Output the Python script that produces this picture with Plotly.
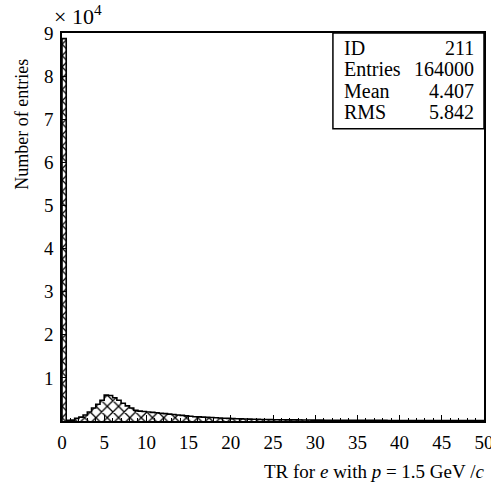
import plotly.graph_objects as go

# Histogram of TR counts, 0.5-wide bins from 0 to 50
bin_width = 0.5
bin_edges = [i * bin_width for i in range(101)]
counts = [
    88700, 150, 200, 600, 900, 1400, 2100, 3000, 3900, 4800,
    6000, 5900, 5400, 4800, 4100, 3500, 3000, 2500, 2300, 2200,
    2100, 2000, 1900, 1800, 1700, 1600, 1500, 1400, 1300, 1200,
    1100, 1000, 950, 900, 850, 800, 750, 700, 650, 600,
    550, 520, 490, 460, 430, 400, 380, 360, 340, 320,
    300, 290, 280, 270, 260, 250, 240, 230, 220, 210,
    200, 195, 190, 185, 180, 175, 170, 165, 160, 155,
    150, 148, 145, 142, 140, 137, 134, 131, 128, 125,
    122, 119, 116, 113, 110, 107, 104, 101, 98, 95,
    93, 91, 89, 87, 85, 83, 82, 81, 80, 80,
]

# Statistics box
stat_names = ["ID", "Entries", "Mean", "RMS"]
stat_values = ["211", "164000", "4.407", "5.842"]

y_tick_vals = [10000 * k for k in range(1, 10)]
y_tick_text = [str(k) for k in range(1, 10)]

FONT = "Liberation Serif"

centers = [(bin_edges[i] + bin_edges[i + 1]) / 2 for i in range(len(counts))]

fig = go.Figure()

# hatched bars
fig.add_trace(go.Bar(
    x=centers, y=counts, width=bin_width,
    marker=dict(
        color="white",
        line=dict(width=0),
        pattern=dict(shape="x", fgcolor="black", bgcolor="white",
                     size=8, solidity=0.3, fillmode="replace"),
    ),
    hoverinfo="skip",
))

# outer step outline of the histogram
step_x = [bin_edges[0]] + bin_edges[:-1] + [bin_edges[-1]]
step_y = [0] + counts + [counts[-1]]
fig.add_trace(go.Scatter(
    x=step_x, y=step_y, mode="lines",
    line=dict(color="black", width=1.6, shape="hv"),
    hoverinfo="skip",
))

annotations = []
row_y = [0.961, 0.906, 0.851, 0.796]
for name, val, yy in zip(stat_names, stat_values, row_y):
    annotations.append(dict(xref="paper", yref="paper", x=0.663, y=yy,
                            xanchor="left", yanchor="middle", text=name,
                            showarrow=False, font=dict(family=FONT, size=20, color="black")))
    annotations.append(dict(xref="paper", yref="paper", x=0.981, y=yy,
                            xanchor="right", yanchor="middle", text=val,
                            showarrow=False, font=dict(family=FONT, size=20, color="black")))

annotations.append(dict(xref="paper", yref="paper", x=-0.024, y=1.046,
                        xanchor="left", yanchor="middle", text="× 10<sup>4</sup>",
                        showarrow=False, font=dict(family=FONT, size=22, color="black")))
annotations.append(dict(xref="paper", yref="paper", x=-0.095, y=0.766,
                        xanchor="center", yanchor="middle", text="Number of entries",
                        textangle=-90, showarrow=False,
                        font=dict(family=FONT, size=18, color="black")))
annotations.append(dict(xref="paper", yref="paper", x=1.005, y=-0.131,
                        xanchor="right", yanchor="middle",
                        text="TR for <i>e</i> with <i>p</i> = 1.5 GeV /<i>c</i>",
                        showarrow=False, font=dict(family=FONT, size=19, color="black")))

fig.update_layout(
    width=491, height=489,
    margin=dict(l=62, r=7, t=33, b=68, autoexpand=False),
    paper_bgcolor="white", plot_bgcolor="white",
    showlegend=False, bargap=0,
    font=dict(family=FONT, size=19, color="black"),
    annotations=annotations,
    shapes=[dict(type="rect", xref="paper", yref="paper",
                 x0=0.642, x1=1.0, y0=0.753, y1=1.0,
                 line=dict(color="black", width=1.5), fillcolor="rgba(0,0,0,0)")],
    xaxis=dict(
        range=[0, 50], tickmode="linear", tick0=0, dtick=5,
        ticks="inside", ticklen=6, tickwidth=1, tickcolor="black",
        minor=dict(ticks="inside", ticklen=3, dtick=1, tickcolor="black", tickwidth=1),
        showline=True, linecolor="black", linewidth=1.5, mirror=True,
        showgrid=False, zeroline=False, automargin=False,
        ticklabeloverflow="allow", ticklabelstandoff=3,
        tickfont=dict(family=FONT, size=19, color="black"),
    ),
    yaxis=dict(
        range=[0, 90000], tickmode="array", tickvals=y_tick_vals, ticktext=y_tick_text,
        ticks="inside", ticklen=5, tickwidth=1, tickcolor="black",
        showline=True, linecolor="black", linewidth=1.5, mirror=True,
        showgrid=False, zeroline=False, automargin=False,
        ticklabelstandoff=3,
        tickfont=dict(family=FONT, size=19, color="black"),
    ),
)

fig.write_html("out.html")
